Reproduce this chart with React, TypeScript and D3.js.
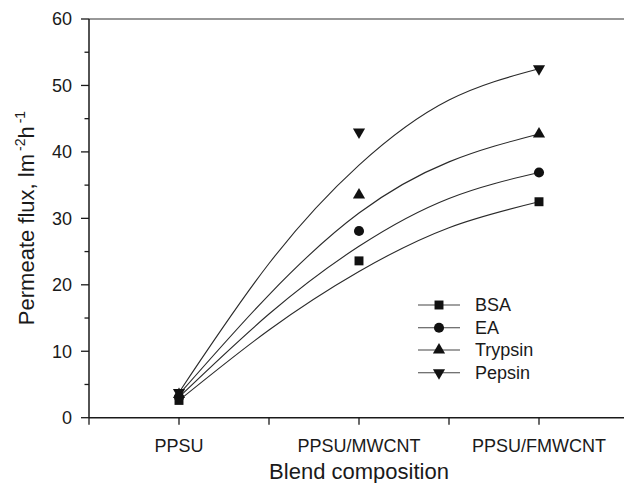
import React from "react";
import * as d3 from "d3";

const categories = ["PPSU", "PPSU/MWCNT", "PPSU/FMWCNT"];
const seriesNames = ["BSA", "EA", "Trypsin", "Pepsin"];
const bsa = [2.6, 23.6, 32.5];
const ea = [3.1, 28.1, 36.9];
const trypsin = [3.5, 33.5, 42.7];
const pepsin = [3.8, 43.0, 52.5];
// fitted curves, at these category positions
const fitX = [0, 0.5, 1, 1.5, 2];
const bsaFit = [2.6, 13.2, 22.0, 28.6, 32.5];
const eaFit = [3.1, 15.6, 25.8, 33.0, 36.9];
const trypsinFit = [3.5, 18.5, 30.8, 38.5, 42.7];
const pepsinFit = [3.8, 23.2, 38.0, 47.8, 52.5];
const yTicks = [0, 10, 20, 30, 40, 50, 60];
const yMinor = [5, 15, 25, 35, 45, 55];
const xMinor = [-0.5, 0.5, 1.5, 2.5];

const W = 624, H = 483;
const FONT = "'Liberation Sans', Arial, sans-serif";
const INK = "#1a1a1a";

export default function App() {
  const x = d3.scaleLinear().domain([-0.5, 2.5]).range([89, 629]);
  const y = d3.scaleLinear().domain([0, 60]).range([417.7, 19]);
  const values = [bsa, ea, trypsin, pepsin];
  const fits = [bsaFit, eaFit, trypsinFit, pepsinFit];
  const symbols = [
    { type: d3.symbolSquare, size: 80, rot: 0 },
    { type: d3.symbolCircle, size: 80, rot: 0 },
    { type: d3.symbolTriangle, size: 64, rot: 0 },
    { type: d3.symbolTriangle, size: 64, rot: 180 },
  ];
  const line = d3
    .line<number>()
    .x((_, i) => x(fitX[i]))
    .y((d) => y(d))
    .curve(d3.curveNatural);
  const symPath = (i: number) => d3.symbol().type(symbols[i].type).size(symbols[i].size)() || "";

  const legendX0 = 418, legendX1 = 460, legendMX = 439, legendTX = 475;
  const legendY = [305, 327.7, 350, 372.7];

  return (
    <svg width={W} height={H} style={{ position: "absolute", left: 0, top: 0, background: "#fff" }}>
      <rect width={W} height={H} fill="#fff" />
      {/* axes */}
      <line x1={x(-0.5)} x2={W} y1={y(60)} y2={y(60)} stroke="#333" strokeWidth={1.2} />
      <line x1={x(-0.5)} x2={x(-0.5)} y1={y(60)} y2={y(0)} stroke={INK} strokeWidth={1.5} />
      <line x1={x(-0.5)} x2={W} y1={y(0)} y2={y(0)} stroke={INK} strokeWidth={1.5} />
      {yTicks.map((t) => (
        <g key={"yt" + t}>
          <line x1={x(-0.5) - 8} x2={x(-0.5)} y1={y(t)} y2={y(t)} stroke={INK} strokeWidth={1.3} />
          <text x={72} y={y(t)} dy="0.35em" textAnchor="end" fontFamily={FONT} fontSize={18} fill={INK}>
            {t}
          </text>
        </g>
      ))}
      {yMinor.map((t) => (
        <line key={"ym" + t} x1={x(-0.5) - 4.5} x2={x(-0.5)} y1={y(t)} y2={y(t)} stroke={INK} strokeWidth={1.3} />
      ))}
      {xMinor.map((t) => (
        <line key={"xm" + t} x1={x(t)} x2={x(t)} y1={y(0)} y2={y(0) + 7} stroke={INK} strokeWidth={1.3} />
      ))}
      {categories.map((c, i) => (
        <g key={c}>
          <line x1={x(i)} x2={x(i)} y1={y(0)} y2={y(0) + 7} stroke={INK} strokeWidth={1.3} />
          <text x={x(i)} y={452} textAnchor="middle" fontFamily={FONT} fontSize={18} fill={INK}>
            {c}
          </text>
        </g>
      ))}
      <text x={x(1)} y={479} textAnchor="middle" fontFamily={FONT} fontSize={22} fill={INK}>
        Blend composition
      </text>
      <text
        transform={`translate(34,${218}) rotate(-90)`}
        textAnchor="middle"
        fontFamily={FONT}
        fontSize={22}
        fill={INK}
      >
        Permeate flux, lm
        <tspan fontSize={14} dx={3} dy={-9}>-2</tspan>
        <tspan dy={9}>h</tspan>
        <tspan fontSize={14} dx={3} dy={-9}>-1</tspan>
      </text>
      {/* fitted curves */}
      {fits.map((f, i) => (
        <path key={"f" + i} d={line(f) || ""} fill="none" stroke="#2a2a2a" strokeWidth={1.1} />
      ))}
      {/* markers */}
      {values.map((vals, i) =>
        vals.map((v, j) => (
          <path
            key={"m" + i + "-" + j}
            d={symPath(i)}
            transform={`translate(${x(j)},${y(v)}) rotate(${symbols[i].rot})`}
            fill="#111"
          />
        ))
      )}
      {/* legend */}
      {seriesNames.map((s, i) => (
        <g key={s}>
          <line x1={legendX0} x2={legendX1} y1={legendY[i]} y2={legendY[i]} stroke="#444" strokeWidth={1.1} />
          <path d={symPath(i)} transform={`translate(${legendMX},${legendY[i]}) rotate(${symbols[i].rot})`} fill="#111" />
          <text x={legendTX} y={legendY[i]} dy="0.36em" fontFamily={FONT} fontSize={18} fill={INK}>
            {s}
          </text>
        </g>
      ))}
    </svg>
  );
}
